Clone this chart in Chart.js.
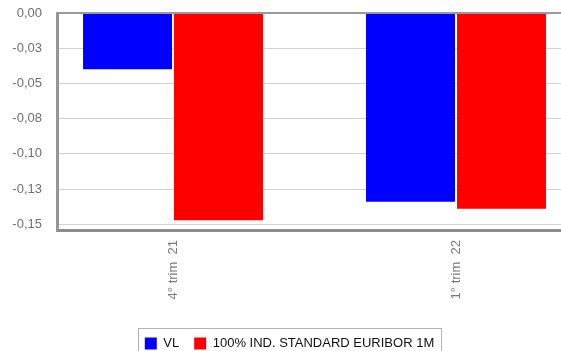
<!DOCTYPE html>
<html>
<head>
<meta charset="utf-8">
<script src="https://cdn.jsdelivr.net/npm/chart.js@4.4.1/dist/chart.umd.min.js"></script>
<style>
    html, body { margin: 0; padding: 0; background: #fff; }
    #wrap { width: 561px; height: 351px; }
</style>
</head>
<body>
<div id="wrap"><canvas id="rentChart" width="561" height="351"></canvas></div>
<script>
const quarters = ['4° trim  21', '1° trim  22'];
const vlValues = [-0.040, -0.134];
const benchValues = [-0.147, -0.139];
const yTickValues = [0, -0.025, -0.05, -0.075, -0.1, -0.125, -0.15];
const yTickLabels = ['0,00', '-0,03', '-0,05', '-0,08', '-0,10', '-0,13', '-0,15'];

// keep the legend strip short and draw a frame round its row
const legendFrame = {
    id: 'legendFrame',
    beforeLayout(chart) {
        const legend = chart.legend;
        if (!legend || legend._shortFit) return;
        const fit = legend.fit;
        legend.fit = function () {
            fit.call(this);
            this.height = 29;
        };
        legend._shortFit = true;
    },
    afterDraw(chart) {
        const boxes = chart.legend.legendHitBoxes;
        if (!boxes || !boxes.length) return;
        const first = boxes[0];
        const last = boxes[boxes.length - 1];
        const ctx = chart.ctx;
        ctx.save();
        ctx.strokeStyle = '#b4b4b4';
        ctx.lineWidth = 1;
        ctx.strokeRect(Math.round(first.left - 7) + 0.5, Math.round(first.top - 9) + 0.5,
            Math.round(last.left + last.width - first.left + 14), 40);
        ctx.restore();
    }
};

Chart.defaults.font.family = '"Liberation Sans", Arial, sans-serif';

const ctx = document.getElementById('rentChart').getContext('2d');
const chart = new Chart(ctx, {
    type: 'bar',
    data: {
        datasets: [{
            label: 'VL',
            data: quarters.map((q, i) => ({ x: i, y: vlValues[i] })),
            backgroundColor: '#0000ff',
            categoryPercentage: 0.643,
            barPercentage: 0.978
        }, {
            label: '100% IND. STANDARD EURIBOR 1M',
            data: quarters.map((q, i) => ({ x: i, y: benchValues[i] })),
            backgroundColor: '#ff0000',
            categoryPercentage: 0.643,
            barPercentage: 0.978
        }]
    },
    options: {
        responsive: false,
        animation: false,
        layout: {
            padding: { top: 13, left: 12, right: -6, bottom: 0 }
        },
        scales: {
            x: {
                type: 'linear',
                offset: false,
                min: -0.41,
                max: 1.371,
                afterBuildTicks: scale => {
                    scale.ticks = quarters.map((q, i) => ({ value: i }));
                },
                afterFit: scale => { scale.height = 92; },
                grid: { display: false, drawTicks: false },
                border: { display: true, color: '#8c8c8c', width: 3 },
                ticks: {
                    autoSkip: false,
                    minRotation: 90,
                    maxRotation: 90,
                    padding: 10,
                    color: '#7a7a7a',
                    font: { size: 13 },
                    callback: (value, i) => quarters[i]
                }
            },
            y: {
                min: -0.154,
                max: 0,
                afterBuildTicks: scale => {
                    scale.ticks = yTickValues.map(v => ({ value: v }));
                },
                afterFit: scale => { scale.width = 45; },
                grid: {
                    drawTicks: true,
                    tickLength: 15,
                    tickColor: 'rgba(0,0,0,0)',
                    color: c => (c.tick && c.tick.value === 0) ? '#9a9a9a' : '#d2d2d2',
                    lineWidth: c => (c.tick && c.tick.value === 0) ? 2 : 1
                },
                border: { display: true, color: '#969696', width: 3 },
                ticks: {
                    padding: 0,
                    color: '#707070',
                    font: { size: 13 },
                    callback: (value, i) => yTickLabels[i]
                }
            }
        },
        plugins: {
            legend: {
                position: 'bottom',
                labels: {
                    boxWidth: 12,
                    boxHeight: 12,
                    padding: 15,
                    color: '#111',
                    font: { size: 13 }
                }
            },
            title: { display: false },
            tooltip: { enabled: false }
        }
    },
    plugins: [legendFrame]
});
</script>
</body>
</html>
